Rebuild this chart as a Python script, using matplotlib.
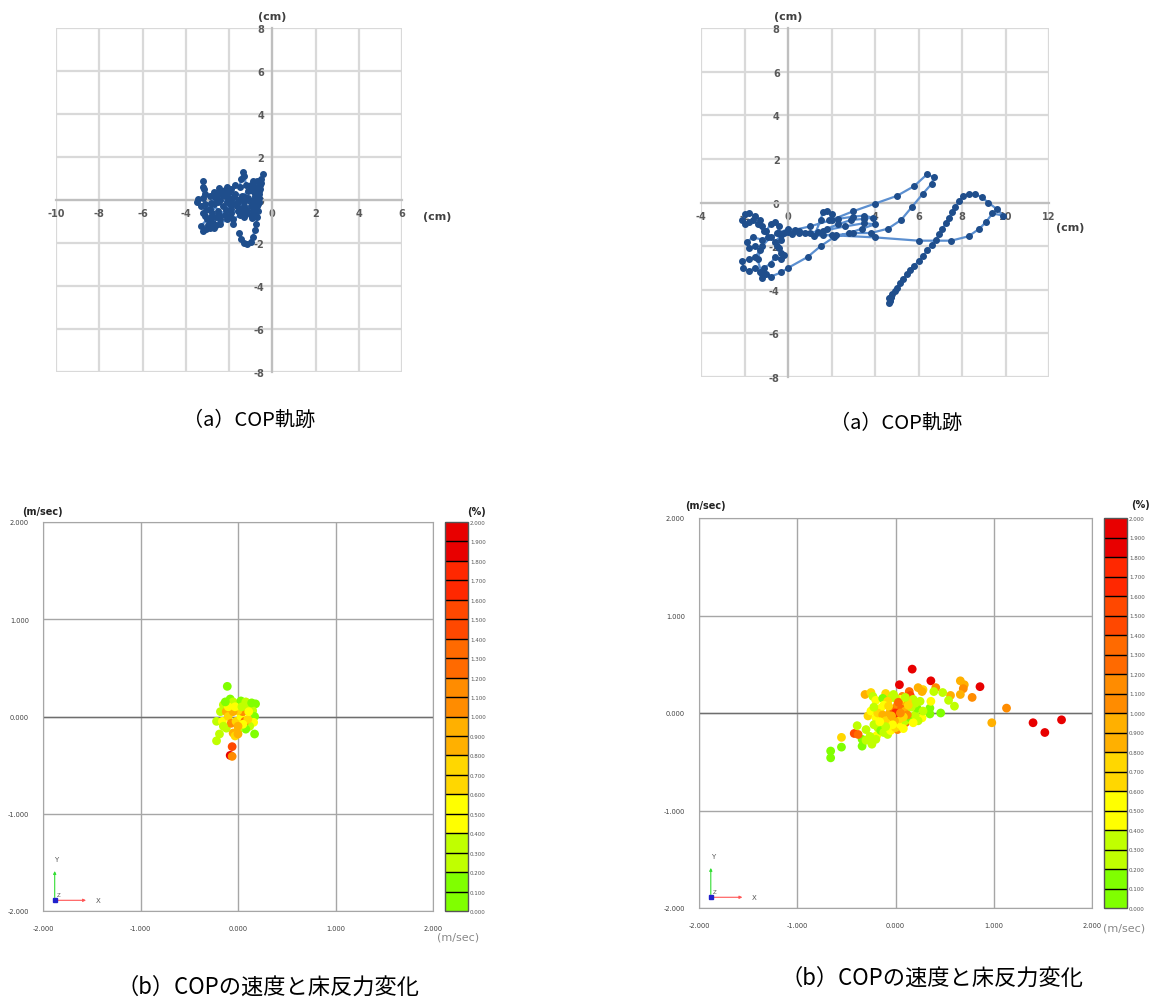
import numpy as np
import matplotlib
matplotlib.use("Agg")
import matplotlib.pyplot as plt
from matplotlib.colors import ListedColormap, BoundaryNorm
from matplotlib.cm import ScalarMappable

plt.rcParams['font.family'] = ['Noto Sans CJK JP', 'DejaVu Sans']

W, H = 1156, 1003

# ---- COP trajectory, subject 1 (x cm, y cm)
cop1 = [(-1.55, -1.55), (-1.45, -1.8), (-1.3, -2.0), (-1.15, -2.05), (-1.0, -1.95), (-0.9, -1.7),
        (-0.8, -1.4), (-0.75, -1.1), (-0.7, -0.8), (-0.65, -0.5), (-0.65, -0.2), (-0.6, 0.1),
        (-0.6, 0.4), (-0.55, 0.7), (-0.5, 1.0), (-0.45, 1.2), (-0.5, 0.8), (-0.55, 0.5),
        (-0.6, 0.5), (-0.8, 0.2), (-1.0, 0.45), (-1.2, 0.7), (-1.3, 1.1), (-1.35, 1.3),
        (-1.45, 1.0), (-1.5, 0.6), (-1.7, 0.7), (-1.9, 0.5), (-2.1, 0.6), (-2.3, 0.4),
        (-2.5, 0.3), (-2.7, 0.35), (-2.9, 0.2), (-3.1, 0.3), (-3.2, 0.6), (-3.2, 0.9),
        (-3.15, 0.5), (-3.2, 0.1), (-3.45, 0.05), (-3.5, -0.1), (-3.3, -0.3), (-3.1, -0.2),
        (-2.9, -0.4), (-3.2, -0.6), (-3.0, -0.9), (-3.3, -1.2), (-3.2, -1.45), (-2.9, -1.3),
        (-2.6, -1.15), (-2.4, -0.9), (-2.2, -0.7), (-2.5, -0.5), (-2.7, -0.2), (-2.4, 0.0),
        (-2.1, -0.1), (-1.9, -0.4), (-1.7, -0.2), (-1.5, -0.4), (-1.3, -0.1), (-1.1, 0.1),
        (-0.9, -0.2), (-0.7, -0.3), (-0.9, -0.5), (-1.2, -0.6), (-1.5, -0.7), (-1.8, -0.9),
        (-1.8, -1.1), (-2.0, -0.8), (-2.3, -0.3), (-2.6, 0.1), (-2.3, 0.25), (-2.0, 0.1),
        (-1.7, 0.3), (-1.4, 0.2), (-1.1, 0.4), (-0.8, 0.6), (-0.7, 0.9), (-0.6, 0.3),
        (-0.8, -0.1), (-1.0, -0.3), (-1.3, -0.3), (-1.6, -0.1), (-1.9, 0.0), (-2.2, 0.2),
        (-2.5, -0.1), (-2.8, -0.6), (-2.6, -0.8), (-2.9, -1.0), (-2.7, -1.3), (-2.4, -1.1),
        (-2.1, -0.9), (-1.9, -0.6), (-1.6, -0.5), (-1.3, -0.8), (-1.0, -0.7), (-0.75, -0.4),
        (-0.6, -0.1), (-0.8, 0.1), (-1.05, -0.05), (-1.25, 0.15), (-1.5, 0.05), (-1.75, 0.15),
        (-2.0, 0.35), (-2.2, 0.45), (-2.45, 0.55), (-2.65, 0.15), (-2.85, -0.15), (-3.05, -0.45),
        (-3.1, -0.75), (-2.85, -0.8), (-2.95, -1.15), (-3.05, -1.35), (-2.75, -1.05),
        (-2.45, -0.7), (-2.15, -0.45), (-1.95, -0.2), (-1.65, -0.3), (-1.4, -0.55), (-1.15, -0.45),
        (-0.95, -0.85), (-0.85, -0.6), (-0.7, -0.05), (-0.85, 0.35), (-1.0, 0.7), (-0.9, 0.9),
        (-0.75, 0.4)]

# ---- COP trajectory, subject 2 (x cm, y cm)
cop2 = [(-0.3, -2.3), (-0.5, -2.0), (-0.3, -1.7), (-0.5, -1.4), (-0.4, -1.1), (-0.6, -0.9),
        (-0.8, -1.0), (-1.0, -1.3), (-1.2, -1.1), (-1.3, -0.8), (-1.5, -0.6), (-1.8, -0.5),
        (-2.0, -0.55), (-2.1, -0.8), (-2.0, -1.0), (-1.8, -0.9), (-1.6, -0.8), (-1.4, -1.0),
        (-1.1, -1.3), (-0.9, -1.6), (-1.2, -1.7), (-1.6, -1.6), (-1.9, -1.8), (-1.8, -2.1),
        (-1.5, -2.0), (-1.3, -2.2), (-1.5, -2.5), (-1.8, -2.6), (-2.1, -2.7), (-2.05, -3.0),
        (-1.8, -3.15), (-1.5, -3.0), (-1.3, -3.2), (-1.2, -3.45), (-1.0, -3.3), (-1.1, -3.0),
        (-0.8, -2.8), (-0.6, -2.5), (-0.3, -2.6), (-0.2, -2.4), (-0.4, -2.1), (-0.6, -1.8),
        (-0.3, -1.5),
        (0.0, -1.35), (0.3, -1.25), (1.0, -1.1), (2.0, -0.8), (3.0, -0.4), (4.0, -0.05),
        (5.0, 0.3), (5.8, 0.75), (6.4, 1.3), (6.7, 1.15), (6.6, 0.85), (6.2, 0.4), (5.7, -0.2),
        (5.2, -0.8), (4.6, -1.2), (3.8, -1.4), (3.0, -1.4), (2.2, -1.5), (1.6, -1.5), (1.2, -1.55),
        (1.5, -0.8), (1.6, -0.45), (1.8, -0.4), (2.0, -0.55), (1.9, -0.8), (2.3, -0.75),
        (3.0, -0.65), (3.5, -0.6), (3.9, -0.7), (3.5, -0.75), (2.9, -0.8), (2.3, -1.0),
        (1.8, -1.2), (1.4, -1.35), (1.0, -1.4), (0.5, -1.3), (0.0, -1.2), (-0.4, -1.4),
        (-0.8, -1.6), (-1.2, -2.0), (-1.4, -2.6),
        (-1.2, -3.3), (-0.8, -3.4), (-0.3, -3.2), (0.0, -3.0), (0.9, -2.5), (1.5, -2.0),
        (2.1, -1.6), (2.8, -1.4), (3.4, -1.2), (4.0, -1.0), (3.5, -0.95), (2.6, -1.1),
        (1.6, -1.3), (0.8, -1.4), (0.2, -1.45), (-0.2, -1.4),
        (0.5, -1.4), (2.0, -1.5), (4.0, -1.6), (6.0, -1.75), (7.5, -1.75), (8.3, -1.55),
        (8.8, -1.2), (9.1, -0.9), (9.4, -0.5), (9.9, -0.6), (9.6, -0.3), (9.2, 0.0),
        (8.9, 0.25), (8.6, 0.38), (8.3, 0.4), (8.05, 0.3), (7.85, 0.05), (7.7, -0.2),
        (7.55, -0.45), (7.4, -0.7), (7.25, -0.95), (7.1, -1.2), (6.95, -1.45), (6.8, -1.7),
        (6.6, -1.95), (6.4, -2.2), (6.2, -2.45), (6.0, -2.7), (5.8, -2.9), (5.6, -3.1),
        (5.45, -3.3), (5.3, -3.5), (5.15, -3.7), (5.0, -3.9), (4.9, -4.05), (4.8, -4.2),
        (4.75, -4.35), (4.7, -4.5), (4.65, -4.6), (4.7, -4.45), (4.75, -4.35), (4.65, -4.4)]

# ---- COP velocity (x m/sec, y m/sec, floor reaction change %), subject 1
vel1 = [(-0.11, 0.31, 0.1), (-0.06, -0.31, 1.4), (-0.08, -0.40, 1.8), (-0.06, -0.41, 1.1),
        (-0.22, -0.25, 0.2), (-0.19, -0.18, 0.3), (0.17, -0.18, 0.1), (0.18, 0.13, 0.1),
        (-0.22, -0.05, 0.3), (-0.08, 0.18, 0.1), (-0.15, 0.12, 0.2), (-0.05, 0.15, 0.3),
        (0.03, 0.16, 0.1), (0.08, 0.15, 0.2), (0.12, 0.10, 0.3), (0.15, 0.06, 0.2),
        (0.17, 0.0, 0.1), (0.16, -0.06, 0.5), (0.12, -0.1, 0.2), (0.08, -0.13, 0.1),
        (0.0, -0.14, 0.3), (-0.05, -0.17, 0.8), (-0.03, -0.2, 0.7), (0.0, -0.18, 0.9),
        (-0.12, -0.12, 0.2), (-0.16, -0.05, 0.4), (-0.18, 0.05, 0.2), (-0.12, 0.05, 0.9),
        (-0.1, 0.0, 0.7), (-0.07, -0.07, 1.1), (-0.02, -0.05, 0.6), (0.03, 0.0, 0.5),
        (0.05, 0.05, 1.0), (0.0, 0.06, 0.6), (-0.05, 0.05, 0.8), (0.07, -0.05, 1.2),
        (0.1, -0.03, 0.6), (0.05, -0.08, 0.4), (-0.03, 0.1, 0.4), (0.04, 0.1, 0.3),
        (-0.1, 0.1, 0.5), (0.11, 0.05, 0.4), (-0.15, -0.1, 0.3), (0.14, 0.14, 0.1),
        (-0.13, 0.15, 0.1), (0.0, -0.1, 0.8)]

# ---- subject 2
vel2 = [(0.17, 0.45, 1.9), (0.04, 0.29, 1.9), (0.36, 0.33, 1.9), (0.86, 0.27, 1.9),
        (1.40, -0.10, 1.9), (1.52, -0.20, 1.9), (1.69, -0.07, 1.9), (1.13, 0.05, 1.0),
        (0.98, -0.10, 0.9), (0.78, 0.16, 1.1), (0.66, 0.33, 0.8), (0.70, 0.29, 0.9),
        (0.69, 0.25, 1.0), (0.66, 0.19, 0.9), (0.41, 0.26, 1.0), (0.56, 0.18, 0.8),
        (0.48, 0.21, 0.3), (0.60, 0.07, 0.3), (0.54, 0.13, 0.3), (0.46, 0.0, 0.1),
        (0.35, 0.05, 0.1), (0.35, -0.01, 0.1), (0.36, 0.12, 0.5), (0.28, 0.24, 0.7),
        (0.23, 0.26, 0.8), (0.27, 0.22, 0.8), (0.39, 0.22, 0.3), (0.27, -0.05, 0.5),
        (-0.66, -0.39, 0.1), (-0.66, -0.46, 0.1), (-0.55, -0.35, 0.1), (-0.55, -0.25, 0.6),
        (-0.34, -0.34, 0.1), (-0.34, -0.27, 0.1), (-0.42, -0.21, 1.4), (-0.38, -0.22, 1.3),
        (-0.39, -0.13, 0.2), (-0.24, -0.32, 0.3), (-0.24, -0.27, 0.3), (-0.19, -0.23, 0.4),
        (-0.3, -0.28, 0.2), (-0.31, 0.19, 0.8), (-0.25, 0.21, 0.6), (-0.23, 0.17, 0.2),
        (-0.2, 0.13, 0.5), (-0.1, 0.2, 0.7), (-0.13, 0.15, 0.1), (0.07, 0.17, 1.1),
        (0.14, 0.22, 1.3), (0.15, 0.18, 1.5), (0.02, -0.17, 1.0), (-0.05, -0.06, 1.1),
        (0.1, -0.1, 1.3), (0.01, 0.05, 1.5), (0.03, 0.03, 1.4), (-0.28, -0.03, 0.6),
        (-0.25, 0.02, 0.5), (-0.2, -0.05, 0.4), (-0.22, -0.12, 0.2), (-0.18, -0.15, 0.3),
        (-0.15, -0.18, 0.1), (-0.12, -0.2, 0.2), (-0.08, -0.22, 0.3), (-0.05, -0.18, 0.5),
        (0.0, -0.15, 0.6), (0.05, -0.12, 0.4), (0.1, -0.08, 0.2), (0.15, -0.05, 0.1),
        (0.2, -0.02, 0.2), (0.22, 0.05, 0.1), (0.2, 0.1, 0.3), (0.18, 0.14, 0.2),
        (0.12, 0.12, 0.7), (0.08, 0.1, 0.9), (0.05, 0.14, 0.4), (0.0, 0.15, 0.3),
        (-0.04, 0.16, 0.2), (-0.08, 0.12, 0.6), (-0.12, 0.08, 0.4), (-0.15, 0.05, 0.5),
        (-0.18, 0.0, 0.7), (-0.13, -0.02, 0.8), (-0.1, -0.08, 0.6), (-0.06, 0.0, 0.9),
        (-0.02, 0.04, 1.2), (0.02, 0.08, 1.0), (0.06, 0.04, 1.3), (0.1, 0.02, 0.8),
        (0.12, -0.02, 1.1), (0.08, -0.04, 0.6), (0.04, -0.06, 0.7), (-0.01, -0.08, 0.9),
        (-0.03, -0.12, 0.4), (0.16, 0.06, 0.2), (0.25, 0.12, 0.2), (0.28, 0.02, 0.3),
        (0.23, -0.08, 0.2), (0.18, -0.1, 0.4), (-0.1, -0.14, 0.3), (-0.16, -0.09, 0.5),
        (-0.22, 0.06, 0.3), (-0.07, 0.07, 0.7), (0.03, 0.11, 1.2), (0.0, 0.0, 1.6),
        (0.05, 0.0, 1.0), (-0.04, -0.03, 0.8), (0.13, 0.08, 0.6), (0.1, 0.16, 0.3),
        (-0.02, 0.19, 0.2), (-0.3, -0.17, 0.2), (-0.26, -0.24, 0.3), (-0.2, -0.27, 0.2),
        (0.08, -0.16, 0.5)]

# colour scale (%) for floor reaction change
band_colors = ['#80ff00', '#80ff00', '#c0ff00', '#c0ff00', '#ffff00', '#ffff00',
               '#ffd700', '#ffd700', '#ffb000', '#ffb000', '#ff8c00', '#ff8c00',
               '#ff6a00', '#ff6a00', '#ff4800', '#ff4800', '#ff2800', '#ff2800',
               '#e80000', '#e80000']
bounds = np.round(np.arange(0, 2.05, 0.1), 1)
cmap = ListedColormap(band_colors)
norm = BoundaryNorm(bounds, cmap.N)

caption_a = '（a）COP軌跡'
caption_b = '（b）COPの速度と床反力変化'


def px_axes(fig, l, t, r, b):
    return fig.add_axes([l / W, 1 - b / H, (r - l) / W, (b - t) / H])


fig = plt.figure(figsize=(W / 100, H / 100), dpi=100)

# ---------- top: COP trajectories ----------
tick_kw = dict(fontsize=7, color='#595959', fontweight='bold', family='DejaVu Sans')


def traj_axes(rect, pts, xlim, cm_right):
    ax = px_axes(fig, *rect)
    xs = [p[0] for p in pts]
    ys = [p[1] for p in pts]
    ax.plot(xs, ys, color='#5b8fd0', lw=1.6, marker='o', ms=4.0,
            mfc='#1f4e8c', mec='#1f4e8c', zorder=3)
    ax.set_xlim(*xlim)
    ax.set_ylim(-8, 8)
    ax.set_xticks(np.arange(xlim[0], xlim[1] + 1, 2))
    ax.set_yticks(np.arange(-8, 9, 2))
    ax.grid(True, color='#d9d9d9', lw=1.6)
    for s in ['top', 'right']:
        ax.spines[s].set_visible(False)
    ax.spines['left'].set_position(('data', 0))
    ax.spines['bottom'].set_position(('data', 0))
    for s in ['left', 'bottom']:
        ax.spines[s].set_color('#bfbfbf')
        ax.spines[s].set_linewidth(1.6)
    ax.tick_params(length=0, pad=6)
    ax.set_xticklabels([str(int(v)) for v in ax.get_xticks()], **tick_kw)
    ax.set_yticklabels([str(int(v)) for v in ax.get_yticks()], **tick_kw)
    ax.set_axisbelow(True)
    ax.text(0, 1.02, '(cm)', transform=ax.get_xaxis_transform(), ha='center', va='bottom',
            fontsize=8, fontweight='bold', color='#404040', family='DejaVu Sans')
    ax.text(cm_right[0], cm_right[1], '(cm)', transform=ax.transAxes, ha='left', va='center',
            fontsize=8, fontweight='bold', color='#404040', family='DejaVu Sans')
    return ax


traj_axes((56, 29, 402, 373), cop1, (-10, 6), (1.06, 0.454))
traj_axes((701, 29, 1049, 378), cop2, (-4, 12), (1.02, 0.43))

fig.text(249 / W, 1 - 420 / H, caption_a, ha='center', va='center', fontsize=14.5)
fig.text(896 / W, 1 - 423 / H, caption_a, ha='center', va='center', fontsize=14.5)

# ---------- bottom: velocity scatter with colour bar ----------
small_kw = dict(fontsize=4.8, color='#404040', family='DejaVu Sans')


def vel_axes(rect, crect, pts, unit_top, pct_pos, unit_bottom):
    ax = px_axes(fig, *rect)
    ax.set_xlim(-2, 2)
    ax.set_ylim(-2, 2)
    ticks = [-2, -1, 0, 1, 2]
    ax.set_xticks(ticks)
    ax.set_yticks(ticks)
    ax.set_xticklabels(['%.3f' % t for t in ticks], **small_kw)
    ax.set_yticklabels(['%.3f' % t for t in ticks], **small_kw)
    ax.tick_params(length=0, pad=10)
    ax.grid(True, color='#a6a6a6', lw=1.0)
    ax.axhline(0, color='#6e6e6e', lw=1.0, zorder=1)
    for s in ax.spines.values():
        s.set_color('#a6a6a6')
    ax.set_axisbelow(True)
    ax.scatter([p[0] for p in pts], [p[1] for p in pts], c=[p[2] for p in pts],
               cmap=cmap, norm=norm, s=40, edgecolors='none', zorder=3)

    # axis orientation marker
    ax.annotate('', xy=(-1.88, -1.56), xytext=(-1.88, -1.89),
                arrowprops=dict(arrowstyle='-|>', color='#33dd33', lw=0.8, mutation_scale=4))
    ax.annotate('', xy=(-1.53, -1.89), xytext=(-1.88, -1.89),
                arrowprops=dict(arrowstyle='-|>', color='#ff5555', lw=0.8, mutation_scale=4))
    ax.plot([-1.88], [-1.89], 's', ms=2.5, color='#2020cc', zorder=4)
    ax.text(-1.86, -1.50, 'Y', fontsize=5, color='#555555', ha='center', va='bottom', family='DejaVu Sans')
    ax.text(-1.46, -1.89, 'X', fontsize=5, color='#555555', ha='left', va='center', family='DejaVu Sans')
    ax.text(-1.86, -1.86, 'Z', fontsize=4, color='#555555', ha='left', va='bottom', family='DejaVu Sans')

    fig.text(unit_top[0] / W, 1 - unit_top[1] / H, '(m/sec)', ha='left', va='center',
             fontsize=7, fontweight='bold', color='#222222', family='DejaVu Sans')

    cax = px_axes(fig, *crect)
    cb = fig.colorbar(ScalarMappable(norm=norm, cmap=cmap), cax=cax, ticks=bounds,
                      drawedges=True)
    cb.ax.set_yticklabels(['%.3f' % b for b in bounds], fontsize=4, color='#555555',
                          family='DejaVu Sans')
    cb.ax.tick_params(length=0, pad=1.5)
    cb.outline.set_edgecolor('#555555')
    cb.outline.set_linewidth(1.0)
    cb.dividers.set_color('black')
    cb.dividers.set_linewidth(1.0)
    fig.text(pct_pos[0] / W, 1 - pct_pos[1] / H, '(%)', ha='center', va='center',
             fontsize=7, fontweight='bold', color='#222222', family='DejaVu Sans')
    fig.text(unit_bottom[0] / W, 1 - unit_bottom[1] / H, '(m/sec)', ha='left', va='center',
             fontsize=8, color='#888888', family='DejaVu Sans')
    return ax


vel_axes((43, 523, 433, 912), (445, 523, 468, 912), vel1, (22, 512), (477, 512), (437, 938))
vel_axes((699, 519, 1092, 909), (1104, 519, 1127, 909), vel2, (685, 506), (1141, 505), (1103, 929))

fig.text(268 / W, 1 - 987 / H, caption_b, ha='center', va='center', fontsize=16)
fig.text(932 / W, 1 - 978 / H, caption_b, ha='center', va='center', fontsize=16)

fig.savefig('out.png', dpi=100, facecolor='white')
